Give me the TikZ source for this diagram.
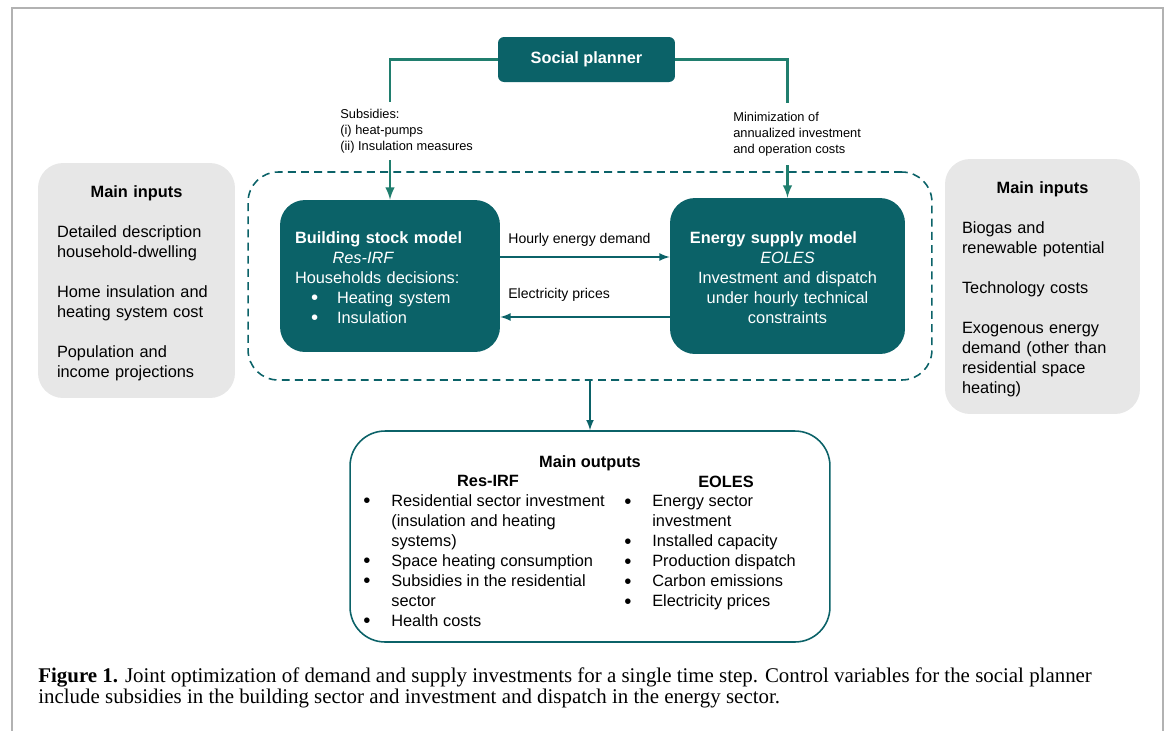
\documentclass[tikz,border=0pt]{standalone}
\usepackage{fontspec}
\setmainfont{Liberation Sans}
\newfontfamily\capfont{Liberation Serif}
\definecolor{modelteal}{RGB}{11,98,104}
\definecolor{linkteal}{RGB}{32,126,110}
\definecolor{inputgray}{RGB}{231,231,231}
\definecolor{framegray}{RGB}{178,178,178}
\newcommand{\bigbul}{\raisebox{-0.8pt}{\scalebox{1.25}{\textbullet}}}
\newcommand{\modelitem}[1]{\hspace*{0.32cm}\makebox[0.52cm][l]{\bigbul}#1}
\newcommand{\outitem}[1]{\makebox[0.56cm][l]{\bigbul}#1}
\newcommand{\outcont}[1]{\hspace*{0.56cm}#1}

\begin{document}
\begin{tikzpicture}[x=0.02cm,y=-0.02cm,font=\fontsize{9.3}{11.4}\selectfont,
    model/.style={fill=modelteal, text=white, rounded corners=0.5cm, inner ysep=0},
    inbox/.style={fill=inputgray, rounded corners=0.5cm, align=left, inner ysep=0},
    lbl/.style={font=\fontsize{7.3}{9}\selectfont, align=left, inner sep=0},
    arrlbl/.style={font=\fontsize{8}{9.6}\selectfont, inner sep=0},
    link/.style={linkteal, line width=1.4pt},
    flow/.style={modelteal, line width=1pt, -latex}]
    \useasboundingbox (0,0) rectangle (1171,731);
    \draw[framegray, line width=0.7pt] (12,731) -- (12,8) -- (1163,8) -- (1163,731);

    \node[model, minimum width=3.54cm, minimum height=0.9cm, rounded corners=0.12cm] (planner) at (586.5,59.5) {\textbf{Social planner}};

    \node[draw=modelteal, dashed, line width=0.9pt, dash pattern=on 4.5pt off 3pt, rounded corners=0.6cm,
        minimum width=13.68cm, minimum height=4.16cm] (coupling) at (590,276) {};

    \node[model, text width=3.8cm, inner xsep=0.3cm, minimum height=3.04cm, align=left] (bsm) at (390,276) {
        \rule{0pt}{9.1pt}\textbf{Building stock model}\\
        \hspace*{0.75cm}\textit{Res-IRF}\\
        Households decisions:\\
        \modelitem{Heating system}\\
        \modelitem{Insulation}};
    \node[model, text width=4.3cm, inner xsep=0.2cm, minimum height=3.12cm, align=center] (esm) at (787.5,276) {
        \rule{0pt}{9.1pt}\hspace*{-0.56cm}\textbf{Energy supply model}\\
        \textit{EOLES}\\
        Investment and dispatch\\
        under hourly technical\\
        constraints};

    \node[inbox, text width=3.18cm, inner xsep=0.38cm, minimum height=4.7cm] (inleft) at (136.5,280.5) {
        \rule{0pt}{10.2pt}\makebox[3.18cm]{\textbf{Main inputs}}\\[11.4pt]
        Detailed description\\
        household-dwelling\\[11.4pt]
        Home insulation and\\
        heating system cost\\[11.4pt]
        Population and\\
        income projections};
    \node[inbox, text width=3.22cm, inner xsep=0.34cm, minimum height=5.1cm] (inright) at (1042.5,286.5) {
        \rule{0pt}{10.2pt}\makebox[3.22cm]{\textbf{Main inputs}}\\[11.4pt]
        Biogas and\\
        renewable potential\\[11.4pt]
        Technology costs\\[11.4pt]
        Exogenous energy\\
        demand (other than\\
        residential space\\
        heating)};

    \node[draw=modelteal, line width=0.9pt, fill=white, rounded corners=0.7cm,
        minimum width=9.6cm, minimum height=4.22cm] (outbox) at (590,536.5) {};
    \node[anchor=base] (outhead) at (590,467) {\textbf{Main outputs}};
    \node[anchor=base] (outresh) at (488,486) {\textbf{Res-IRF}};
    \node[anchor=base] (outeolesh) at (726,487) {\textbf{EOLES}};
    \node[anchor=north west, inner sep=0, align=left] (outres) at (363,494) {
        \outitem{Residential sector investment}\\
        \outcont{(insulation and heating}\\
        \outcont{systems)}\\
        \outitem{Space heating consumption}\\
        \outitem{Subsidies in the residential}\\
        \outcont{sector}\\
        \outitem{Health costs}};
    \node[anchor=north west, inner sep=0, align=left] (outeoles) at (624,495) {
        \outitem{Energy sector}\\
        \outcont{investment}\\
        \outitem{Installed capacity}\\
        \outitem{Production dispatch}\\
        \outitem{Carbon emissions}\\
        \outitem{Electricity prices}};

    \node[lbl, anchor=north west] (subs) at (340,109) {Subsidies:\\(i) heat-pumps\\(ii) Insulation measures};
    \node[lbl, anchor=north west] (mincost) at (733,112) {Minimization of\\annualized investment\\and operation costs};
    \coordinate (substop) at (390,102);
    \coordinate (subsbot) at (390,160);
    \coordinate (mintop) at (787.5,103);
    \coordinate (minbot) at (787.5,165);
    \draw[link] (planner.west) -| (substop);
    \draw[link,-latex] (subsbot) -- (bsm.north);
    \draw[link] (planner.east) -| (mintop);
    \draw[link,-latex] (minbot) -- (esm.north);

    \draw[flow] ([yshift=0.38cm]bsm.east) -- ([yshift=0.38cm]esm.west);
    \draw[flow] ([yshift=-0.82cm]esm.west) -- ([yshift=-0.82cm]bsm.east);
    \node[arrlbl, anchor=base west] (hourly) at (508,243) {Hourly energy demand};
    \node[arrlbl, anchor=base west] (prices) at (508,298) {Electricity prices};
    \draw[flow] (coupling.south) -- (outbox.north);

    \node[anchor=north west, inner sep=0, align=left, font=\capfont\fontsize{11.9}{12.3}\selectfont] (caption) at (38,667) {
        \textbf{Figure 1.} Joint optimization of demand and supply investments for a single time step. Control variables for the social planner\\
        include subsidies in the building sector and investment and dispatch in the energy sector.};
\end{tikzpicture}
\end{document}
